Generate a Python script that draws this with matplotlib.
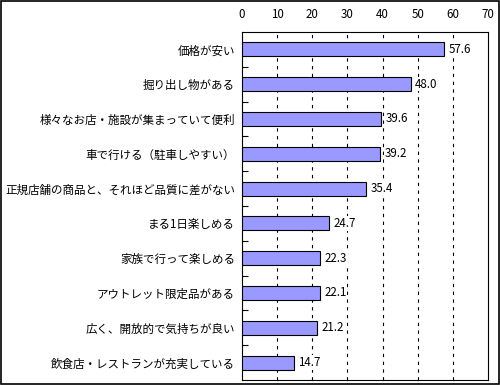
import matplotlib
matplotlib.use('Agg')
import matplotlib.pyplot as plt
from matplotlib.patches import Rectangle

plt.rcParams['font.family'] = ['Noto Sans CJK JP', 'DejaVu Sans']

# Data
labels = ['価格が安い', '掘り出し物がある', '様々なお店・施設が集まっていて便利',
          '車で行ける（駐車しやすい）', '正規店舗の商品と、それほど品質に差がない',
          'まる1日楽しめる', '家族で行って楽しめる', 'アウトレット限定品がある',
          '広く、開放的で気持ちが良い', '飲食店・レストランが充実している']
values = [57.6, 48.0, 39.6, 39.2, 35.4, 24.7, 22.3, 22.1, 21.2, 14.7]
xticks = [0, 10, 20, 30, 40, 50, 60, 70]

fig = plt.figure(figsize=(5, 3.85), dpi=100)
ax = fig.add_axes([0.484, 0.013, 0.492, 0.904])

pos = list(range(len(labels)))
ax.barh(pos, values, height=0.4, color='#9999FF', edgecolor='black', linewidth=0.8, zorder=3)
for p, v in zip(pos, values):
    ax.text(v + 1.3, p, f'{v:.1f}', va='center', ha='left', fontsize=8.3, zorder=4,
            bbox=dict(facecolor='white', edgecolor='none', pad=0.5))

ax.set_xlim(0, 70)
ax.set_ylim(len(labels) - 0.5, -0.5)
ax.xaxis.tick_top()
ax.set_xticks(xticks)
ax.set_xticklabels([str(t) for t in xticks], fontsize=8.3)
ax.tick_params(axis='x', length=0, pad=8)

ax.set_yticks(pos)
ax.set_yticklabels(labels, fontsize=8.3)
ax.tick_params(axis='y', length=0, pad=5)
# small category boundary ticks
ax.set_yticks([p + 0.5 for p in pos[:-1]], minor=True)
ax.tick_params(axis='y', which='minor', direction='in', length=4, width=0.8)

for t in xticks[1:-1]:
    ax.axvline(t, color='black', linestyle=(0, (3, 4)), linewidth=0.8, zorder=1)

for s in ax.spines.values():
    s.set_linewidth(0.8)

fig.patches.append(Rectangle((0.002, 0.003), 0.996, 0.994, transform=fig.transFigure,
                             fill=False, edgecolor='black', linewidth=1.2))

fig.savefig('out.png', dpi=100)
